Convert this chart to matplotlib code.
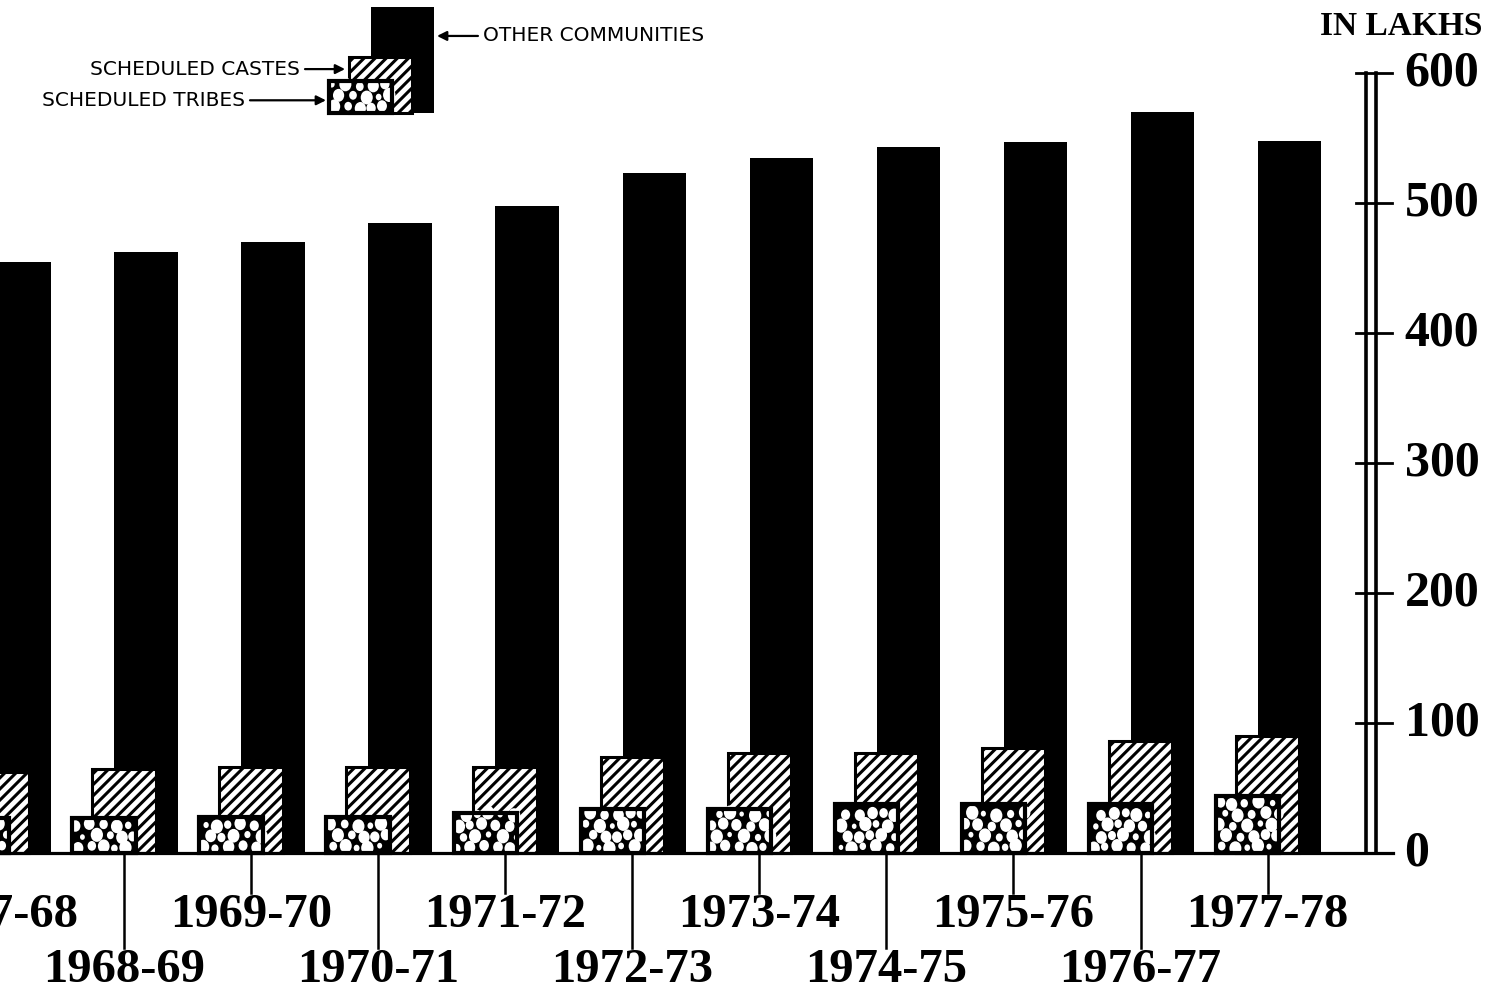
import numpy as np
import matplotlib.pyplot as plt
from matplotlib.patches import Ellipse

# enrolment, in lakhs
years = ["1967-68", "1968-69", "1969-70", "1970-71", "1971-72", "1972-73",
         "1973-74", "1974-75", "1975-76", "1976-77", "1977-78"]
other = [455, 462, 470, 485, 498, 523, 535, 543, 547, 570, 548]
castes = [62, 65, 66, 66, 66, 74, 77, 77, 81, 86, 90]
tribes = [27, 27, 28, 28, 31, 34, 34, 38, 38, 38, 44]
yticks = [0, 100, 200, 300, 400, 500, 600]

# legend sample heights
leg_other, leg_castes, leg_tribes = 82, 43, 25

PX = 127.06   # pixels per group
PY = 1.3      # pixels per lakh
W = 0.5
OFF_SC = -0.173
OFF_ST = -0.33

plt.rcParams['hatch.linewidth'] = 2.2
SERIF = ['Liberation Serif', 'DejaVu Serif']

fig = plt.figure(figsize=(14.97, 9.93), dpi=100)
ax = fig.add_axes([0, 0, 1, 1])
ax.set_xlim(-19 / PX, 1478 / PX)
ax.set_ylim(-140 / PY, 853 / PY)
ax.axis('off')


def bubbles(x_left, w, bottom, h, clip, z, seed):
    # pebble texture: white blobs on black
    wp, hp = w * PX, h * PY
    row, yy = 0, 6.0
    while yy < hp:
        xx = 5.0 + (6.0 if row % 2 else 0.0)
        col = 0
        while xx < wp:
            k = 1.7 * col + 2.3 * row + seed
            r = 2.2 + 4.0 * abs(np.sin(k))
            jx = 2.0 * np.sin(3.1 * k)
            jy = 1.5 * np.cos(2.7 * k)
            e = Ellipse((x_left + (xx + jx) / PX, bottom + (yy + jy) / PY),
                        2 * r / PX, 2.3 * r / PY, angle=0,
                        facecolor='white', edgecolor='none', zorder=z)
            e.set_clip_path(clip)
            ax.add_patch(e)
            xx += 12.5
            col += 1
        yy += 11.0
        row += 1


def group(xc, v_other, v_sc, v_st, bottom, seed):
    ax.bar(xc, v_other, W, bottom=bottom, color='black', zorder=2)
    ax.bar(xc + OFF_SC, v_sc, W, bottom=bottom, facecolor='white',
           edgecolor='black', linewidth=2.2, hatch='///', zorder=3)
    st = ax.bar(xc + OFF_ST, v_st, W, bottom=bottom, color='black', zorder=4)
    bubbles(xc + OFF_ST - W / 2, W, bottom, v_st, st.patches[0], 4.1, seed)
    ax.bar(xc + OFF_ST, v_st, W, bottom=bottom, fill=False,
           edgecolor='black', linewidth=3.0, zorder=4.2)


x = np.arange(len(years))
for i in range(len(years)):
    group(x[i], other[i], castes[i], tribes[i], 0, 0.9 * i)

    # year labels on two rows with leader lines
    lx = x[i] + OFF_SC
    if i % 2 == 0:
        ax.plot([lx, lx], [0, -31], color='black', lw=1.8, zorder=1)
        ax.text(lx, -48, years[i], ha='center', va='center', fontsize=35,
                fontweight='bold', family=SERIF)
    else:
        ax.plot([lx, lx], [0, -73], color='black', lw=1.8, zorder=1)
        ax.text(lx, -90, years[i], ha='center', va='center', fontsize=35,
                fontweight='bold', family=SERIF)

# baseline
ax.plot([-19 / PX, 10.81], [0, 0], color='black', lw=2.3, zorder=5)

# double-line axis on the right
for ax_x in [10.601, 10.680]:
    ax.plot([ax_x, ax_x], [0, 600], color='black', lw=2.6, zorder=5)
for t in yticks:
    ax.plot([10.525, 10.805], [t, t], color='black', lw=2.0, zorder=5)
    ax.text(10.905, t, str(t), ha='left', va='center', fontsize=36,
            fontweight='bold', family=SERIF)
ax.text(11.514, 636, "IN LAKHS", ha='right', va='center', fontsize=24,
        fontweight='bold', family=SERIF)

# legend drawn as a small step of bars
group(3.018, leg_other, leg_castes, leg_tribes, 569, 5.0)
ax.text(3.652, 628.5, "OTHER COMMUNITIES", ha='left', va='center',
        fontsize=14.5, family='DejaVu Sans')
ax.text(2.211, 603, "SCHEDULED CASTES", ha='right', va='center',
        fontsize=14.5, family='DejaVu Sans')
ax.text(1.779, 579, "SCHEDULED TRIBES", ha='right', va='center',
        fontsize=14.5, family='DejaVu Sans')
arrow = dict(arrowstyle='-|>', color='black', lw=1.6, mutation_scale=14,
             shrinkA=0, shrinkB=0)
ax.annotate('', xy=(3.29, 628.5), xytext=(3.612, 628.5), arrowprops=arrow)
ax.annotate('', xy=(2.566, 603), xytext=(2.251, 603), arrowprops=arrow)
ax.annotate('', xy=(2.416, 579), xytext=(1.818, 579), arrowprops=arrow)

fig.savefig('out.png', dpi=100)
